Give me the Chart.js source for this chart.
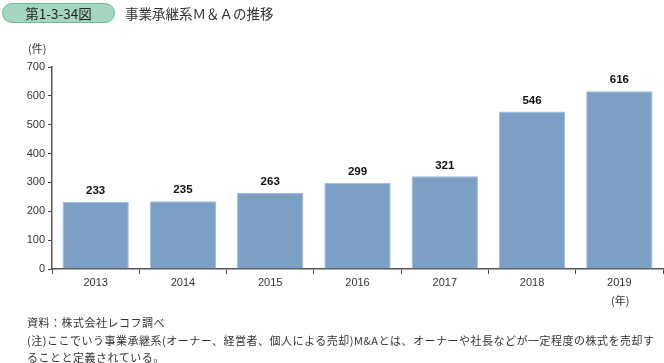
<!DOCTYPE html>
<html>
<head>
<meta charset="utf-8">
<script src="https://cdn.jsdelivr.net/npm/chart.js@4/dist/chart.umd.min.js"></script>
<style>
    body { margin: 0; background: #fff; font-family: "Noto Sans CJK JP", "Noto Sans", sans-serif; color: #333; }
    #wrap { position: relative; width: 664px; height: 363px; overflow: hidden; }
    #chartCanvas { position: absolute; left: 0; top: 0; }
    .txt { position: absolute; white-space: nowrap; }
    #badge {
        left: 2px; top: 3px; width: 111px; height: 18px; line-height: 18px;
        border-radius: 10px; background: #a6d6c2; border: 1px solid #6bbb98;
        text-align: center; font-size: 13.5px; color: #222;
    }
    #title { left: 125px; top: 3px; font-size: 13.5px; line-height: 20px; color: #333; }
    #yunit { left: 28px; top: 40px; font-size: 11px; }
    #xunit { left: 611px; top: 292px; font-size: 11px; }
    #notes { left: 27px; top: 314px; font-size: 11px; line-height: 17.5px; letter-spacing: 0.5px; }
</style>
</head>
<body>
<div id="wrap">
    <canvas id="chartCanvas" width="664" height="363"></canvas>
    <div class="txt" id="badge">第1-3-34図</div>
    <div class="txt" id="title">事業承継系Ｍ＆Ａの推移</div>
    <div class="txt" id="yunit">(件)</div>
    <div class="txt" id="xunit">(年)</div>
    <div class="txt" id="notes">資料：株式会社レコフ調べ<br>(注)ここでいう事業承継系(オーナー、経営者、個人による売却)M&amp;Aとは、オーナーや社長などが一定程度の株式を売却す<br>ることと定義されている。</div>
</div>
<script>
// chart data
const years = ['2013', '2014', '2015', '2016', '2017', '2018', '2019'];
const dealCounts = [233, 235, 263, 299, 321, 546, 616];
const yTicks = [0, 100, 200, 300, 400, 500, 600, 700];

// draws the value above each bar
const valueLabels = {
    id: 'valueLabels',
    afterDatasetsDraw(chart) {
        const ctx = chart.ctx;
        const meta = chart.getDatasetMeta(0);
        ctx.save();
        ctx.font = 'bold 11.5px "Liberation Sans", Arial, sans-serif';
        ctx.fillStyle = '#111';
        ctx.textAlign = 'center';
        ctx.textBaseline = 'middle';
        meta.data.forEach((bar, i) => {
            ctx.fillText(chart.data.datasets[0].data[i], bar.x, bar.y - 11);
        });
        ctx.restore();
    }
};

const ctx = document.getElementById('chartCanvas').getContext('2d');
const chart = new Chart(ctx, {
    type: 'bar',
    data: {
        labels: years,
        datasets: [{
            data: dealCounts,
            backgroundColor: 'rgb(123, 159, 197)',
            borderColor: 'rgb(160, 186, 214)',
            borderWidth: 1,
            categoryPercentage: 0.76,
            barPercentage: 1
        }]
    },
    options: {
        responsive: false,
        animation: false,
        layout: { padding: { top: 67, right: 1, bottom: 70, left: 0 } },
        plugins: {
            legend: { display: false },
            tooltip: { enabled: false }
        },
        scales: {
            x: {
                afterFit: (scale) => { scale.height = 24; },
                grid: { drawOnChartArea: false, drawTicks: true, tickLength: 5, color: '#444', offset: true },
                border: { color: '#555', width: 1.5 },
                ticks: {
                    color: '#333', padding: 2,
                    font: { size: 11, family: '"Liberation Sans", Arial, sans-serif' }
                }
            },
            y: {
                min: 0,
                max: 700,
                afterFit: (scale) => { scale.width = 52; },
                afterBuildTicks: (scale) => { scale.ticks = yTicks.map(v => ({ value: v })); },
                grid: { drawOnChartArea: false, drawTicks: true, tickLength: 4, color: '#444' },
                border: { color: '#555', width: 1.5 },
                ticks: {
                    color: '#333', padding: 3,
                    font: { size: 11, family: '"Liberation Sans", Arial, sans-serif' }
                }
            }
        }
    },
    plugins: [valueLabels]
});
</script>
</body>
</html>
